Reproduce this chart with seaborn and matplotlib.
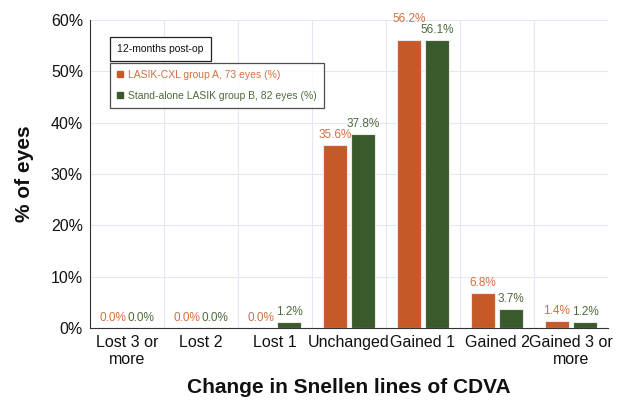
import numpy as np
import pandas as pd
import matplotlib
matplotlib.use("Agg")
import matplotlib.pyplot as plt
import seaborn as sns
from matplotlib.ticker import MultipleLocator, PercentFormatter
from matplotlib.patches import Patch

# Data
categories = ["Lost 3 or\nmore", "Lost 2", "Lost 1", "Unchanged", "Gained 1", "Gained 2", "Gained 3 or\nmore"]
group_a = [0.0, 0.0, 0.0, 35.6, 56.2, 6.8, 1.4]
group_b = [0.0, 0.0, 1.2, 37.8, 56.1, 3.7, 1.2]
series_names = ["LASIK-CXL group A, 73 eyes (%)", "Stand-alone LASIK group B, 82 eyes (%)"]

orange = "#C55A28"
green = "#3B5A2B"
orange_txt = "#D2703F"
green_txt = "#4E6B3C"

df = pd.DataFrame({
    "cat": categories * 2,
    "val": group_a + group_b,
    "grp": [series_names[0]] * 7 + [series_names[1]] * 7,
})

sns.set_style("white")
plt.rcParams["font.family"] = ["Liberation Sans", "DejaVu Sans"]
plt.rcParams["text.color"] = "#111111"
plt.rcParams["axes.labelcolor"] = "#111111"
plt.rcParams["xtick.color"] = "#111111"
plt.rcParams["ytick.color"] = "#111111"

fig = plt.figure(figsize=(6.19, 4.01), dpi=100)
ax = fig.add_axes([90 / 619, 1 - 328 / 401, (608 - 90) / 619, (328 - 20) / 401])

sns.barplot(data=df, x="cat", y="val", hue="grp", palette=[orange, green],
            saturation=1, width=0.75, gap=0.14, edgecolor="#E8E8E8", linewidth=0.8,
            legend=False, ax=ax, zorder=3)

ax.set_ylim(0, 60)
ax.set_xlim(-0.5, 6.5)
ax.yaxis.set_major_locator(MultipleLocator(10))
ax.yaxis.set_minor_locator(MultipleLocator(2))
ax.yaxis.set_major_formatter(PercentFormatter(decimals=0))
ax.set_xticks(np.arange(-0.5, 7, 1), minor=True)
ax.grid(False)
for y in range(10, 61, 10):
    ax.axhline(y, color="#E3E8F2", lw=0.8, zorder=0)
for x in np.arange(0.5, 6.5, 1):
    ax.axvline(x, color="#E3E8F2", lw=0.8, zorder=0)

for s in ["top", "right"]:
    ax.spines[s].set_visible(False)
ax.spines["left"].set_color("#333333")
ax.spines["bottom"].set_color("#333333")
ax.tick_params(axis="y", which="major", length=6, direction="inout", labelsize=11.5, color="#333333", pad=2)
ax.tick_params(axis="y", which="minor", length=3, direction="out", color="#333333")
ax.tick_params(axis="x", which="major", length=0, labelsize=11.5, pad=5)
ax.tick_params(axis="x", which="minor", length=5, direction="out", color="#333333")

# value labels (lift the first label when the two would collide)
for i, (va, vb) in enumerate(zip(group_a, group_b)):
    ya = va + 0.8
    if va > 10 and abs(va - vb) < 1.5:
        ya = max(va, vb) + 2.8
    ax.text(i - 0.19, ya, f"{va:.1f}%", ha="center", va="bottom", fontsize=8.5, color=orange_txt)
    ax.text(i + 0.19, vb + 0.8, f"{vb:.1f}%", ha="center", va="bottom", fontsize=8.5, color=green_txt)

ax.set_xlabel("Change in Snellen lines of CDVA", fontsize=15, fontweight="bold", labelpad=8)
ax.set_ylabel("% of eyes", fontsize=15, fontweight="bold", labelpad=12)

# title box
ax.text(0.052, 0.906, "12-months post-op", transform=ax.transAxes, fontsize=7.5,
        va="center", ha="left",
        bbox=dict(boxstyle="square,pad=0.7", fc="white", ec="#222222", lw=0.9), zorder=5)

handles = [Patch(color=orange), Patch(color=green)]
leg = ax.legend(handles, series_names, loc="upper left", bbox_to_anchor=(0.038, 0.862),
                fontsize=7.5, frameon=True, fancybox=False, edgecolor="#222222",
                handlelength=0.6, handleheight=0.6, handletextpad=0.5, labelspacing=1.05,
                borderpad=0.7, borderaxespad=0)
leg.get_frame().set_linewidth(0.9)
leg.set_zorder(5)
for t, c in zip(leg.get_texts(), [orange_txt, green_txt]):
    t.set_color(c)

fig.savefig("out.png", dpi=100)
